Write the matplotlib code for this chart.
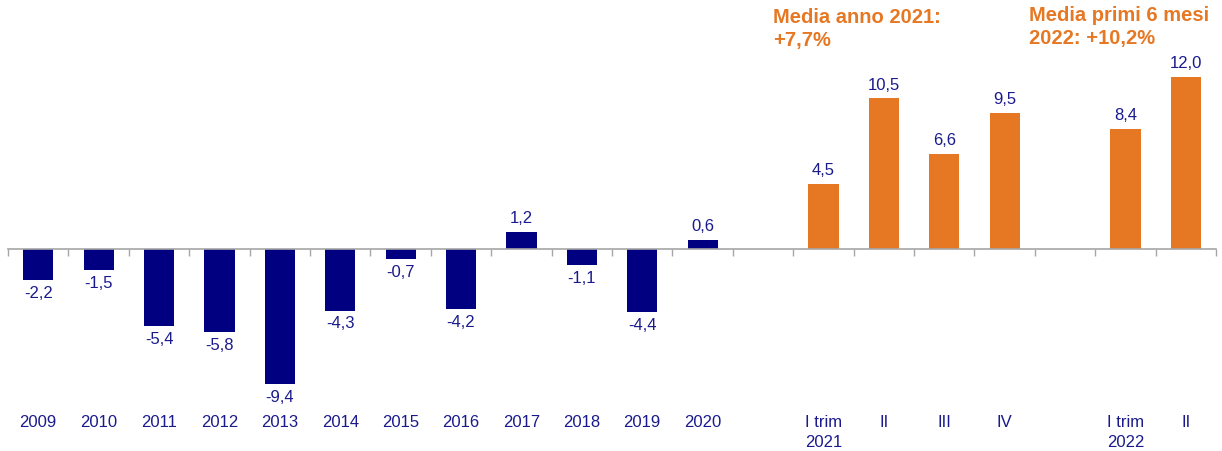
import matplotlib
matplotlib.use('Agg')
import matplotlib.pyplot as plt
import matplotlib.transforms as mtransforms
import numpy as np

plt.rcParams['font.family'] = ['Liberation Sans', 'DejaVu Sans']

years = ['2009', '2010', '2011', '2012', '2013', '2014', '2015', '2016',
         '2017', '2018', '2019', '2020']
year_vals = [-2.2, -1.5, -5.4, -5.8, -9.4, -4.3, -0.7, -4.2, 1.2, -1.1, -4.4, 0.6]
q2021 = ['I trim\n2021', 'II', 'III', 'IV']
q2021_vals = [4.5, 10.5, 6.6, 9.5]
q2022 = ['I trim\n2022', 'II']
q2022_vals = [8.4, 12.0]

navy = '#000080'
orange = '#E67824'
text_col = '#1A1A8C'

# positions with one empty slot between groups
x_years = np.arange(len(years))
x_q21 = np.arange(len(q2021)) + len(years) + 1
x_q22 = np.arange(len(q2022)) + x_q21[-1] + 2
n_slots = x_q22[-1] + 1

fig = plt.figure(figsize=(12.22, 4.52), dpi=100)
ax = fig.add_axes([8 / 1222, 0, 1208 / 1222, 1])

ax.bar(x_years, year_vals, width=0.5, color=navy)
ax.bar(x_q21, q2021_vals, width=0.5, color=orange)
ax.bar(x_q22, q2022_vals, width=0.5, color=orange)

ax.set_xlim(-0.5, n_slots - 0.5)
ax.set_ylim(-14.1, 17.44)

for xs, vs in [(x_years, year_vals), (x_q21, q2021_vals), (x_q22, q2022_vals)]:
    for x, v in zip(xs, vs):
        lbl = f'{v:.1f}'.replace('.', ',')
        if v >= 0:
            ax.annotate(lbl, (x, v), xytext=(0, 5), textcoords='offset points',
                        ha='center', va='bottom', fontsize=12, color=text_col)
        else:
            ax.annotate(lbl, (x, v), xytext=(0, -3.5), textcoords='offset points',
                        ha='center', va='top', fontsize=12, color=text_col)

# category labels under the chart
trans = mtransforms.blended_transform_factory(ax.transData, ax.transAxes)
for x, lbl in zip(list(x_years) + list(x_q21) + list(x_q22), years + q2021 + q2022):
    ax.text(x, 1 - 415 / 452, lbl, transform=trans, ha='center', va='top',
            fontsize=12, color=text_col, multialignment='left', linespacing=1.45)

# zero axis with boundary ticks
for s in ['top', 'right', 'left']:
    ax.spines[s].set_visible(False)
ax.spines['bottom'].set_position(('data', 0))
ax.spines['bottom'].set_color('#A6A6A6')
ax.spines['bottom'].set_linewidth(1.2)
ax.set_yticks([])
ax.set_xticks(np.arange(n_slots + 1) - 0.5)
ax.set_xticklabels([])
ax.tick_params(axis='x', direction='out', length=5, width=1, color='#A6A6A6')

ax.text(x_q21[0] - 0.83, 16.85, 'Media anno 2021:\n+7,7%', ha='left', va='top',
        fontsize=14.5, fontweight='bold', color=orange, linespacing=1.22)
ax.text(x_q22[0] - 1.6, 17.0, 'Media primi 6 mesi\n2022: +10,2%', ha='left', va='top',
        fontsize=14.5, fontweight='bold', color=orange, linespacing=1.22)

fig.savefig('out.png', dpi=100)
